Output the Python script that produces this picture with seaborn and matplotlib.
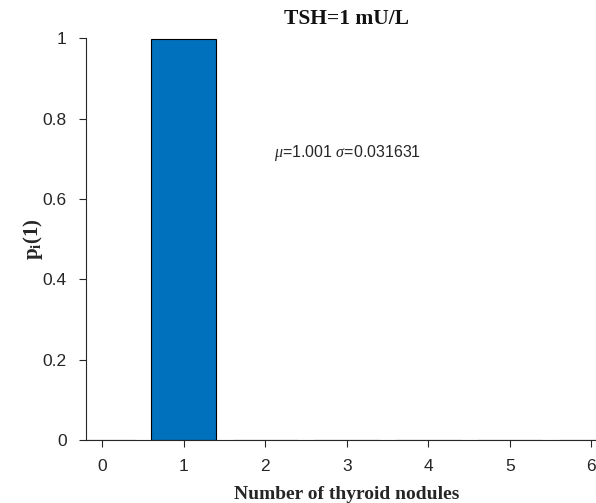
import matplotlib
matplotlib.use("Agg")
import matplotlib.pyplot as plt
import seaborn as sns
import pandas as pd

nodules = [0, 1, 2, 3, 4, 5, 6]
prob = [0.0, 0.999, 0.001, 0.0, 0.0, 0.0, 0.0]
title = "TSH=1 mU/L"
xlabel = "Number of thyroid nodules"
ylabel = r"$\mathbf{p_i(1)}$"
annot = r"$\mu$=1.001 $\sigma$=0.031631"

sns.set_theme(style="white")
plt.rcParams['font.family'] = ['Liberation Sans', 'DejaVu Sans']
plt.rcParams['mathtext.fontset'] = 'custom'
plt.rcParams['mathtext.rm'] = 'Liberation Serif'
plt.rcParams['mathtext.it'] = 'Liberation Serif:italic'
plt.rcParams['mathtext.bf'] = 'Liberation Serif:bold'

df = pd.DataFrame({"n": nodules, "p": prob})

fig = plt.figure(figsize=(5.96, 5.03), dpi=100)
ax = fig.add_axes([0.1443, 0.1252, 0.875, 0.799])

sns.barplot(data=df, x="n", y="p", native_scale=True, width=0.8,
            color="#0072BD", saturation=1, edgecolor="black", linewidth=0.8, ax=ax)

ax.set_xlim(-0.2, 6.2)
ax.set_ylim(0, 1)
ax.set_xticks(nodules)
ax.set_xticklabels([str(v) for v in nodules])
ax.set_yticks([0, 0.2, 0.4, 0.6, 0.8, 1])
ax.set_yticklabels(["0", "0.2", "0.4", "0.6", "0.8", "1"])

for s in ["top", "right"]:
    ax.spines[s].set_visible(False)
ax.spines["left"].set_color("#262626")
ax.spines["bottom"].set_color("#262626")
ax.spines["left"].set_linewidth(0.8)
ax.spines["bottom"].set_linewidth(0.8)
ax.tick_params(axis="both", direction="out", length=5, width=0.8, colors="#262626",
               labelsize=12.5, bottom=True, left=True)
ax.tick_params(axis="x", pad=9)
ax.tick_params(axis="y", pad=9)

ax.set_title(title, fontfamily="Liberation Serif", fontweight="bold", fontsize=15.5, color="#111111", pad=10)
ax.set_xlabel(xlabel, fontfamily="Liberation Serif", fontweight="bold", fontsize=14, color="#262626", labelpad=8)
ax.set_ylabel(ylabel, fontfamily="Liberation Serif", fontsize=15, color="#262626", labelpad=-2)
ax.text(2.11, 0.714, annot, fontsize=11.5, color="#262626", va="center", ha="left")

fig.savefig("out.png", dpi=100)
